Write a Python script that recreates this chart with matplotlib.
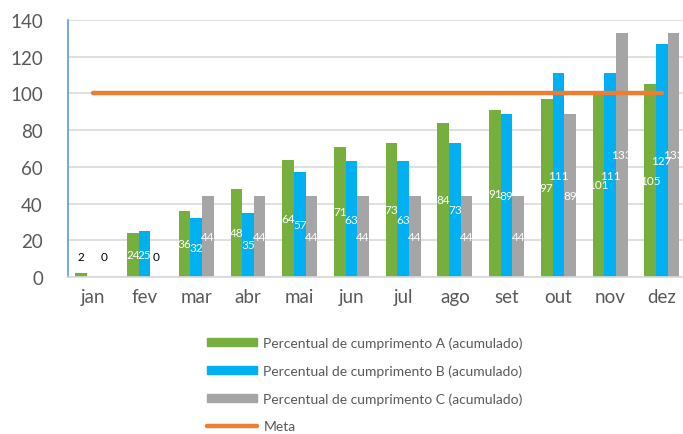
import numpy as np
import matplotlib.pyplot as plt
from matplotlib.patches import Patch
from matplotlib.lines import Line2D

plt.rcParams['font.family'] = ['Lato', 'DejaVu Sans']

meses = ['jan', 'fev', 'mar', 'abr', 'mai', 'jun', 'jul', 'ago', 'set', 'out', 'nov', 'dez']
serie_a = [2, 24, 36, 48, 64, 71, 73, 84, 91, 97, 101, 105]
serie_b = [np.nan, 25, 32, 35, 57, 63, 63, 73, 89, 111, 111, 127]
serie_c = [0, 0, 44, 44, 44, 44, 44, 44, 44, 89, 133, 133]
meta = [100] * 12

nomes = ['Percentual de cumprimento A (acumulado)',
         'Percentual de cumprimento B (acumulado)',
         'Percentual de cumprimento C (acumulado)']
cores = ['#77AF3E', '#00B0F0', '#A5A5A5']

fig = plt.figure(figsize=(6.83, 4.35), dpi=100)
ax = fig.add_axes([68 / 683, 1 - 278 / 435, 615 / 683, 257 / 435])

x = np.arange(len(meses))
w = 0.225
for k, (vals, cor) in enumerate(zip([serie_a, serie_b, serie_c], cores)):
    pos = x + (k - 1) * w
    v = np.array(vals, dtype=float)
    ax.bar(pos, np.nan_to_num(v), w, color=cor, zorder=2)
    for xi, vi in zip(pos, v):
        if np.isnan(vi):
            continue
        if vi < 5:
            ax.text(xi, 11, f'{vi:.0f}', ha='center', va='center', fontsize=8.5, color='black', zorder=4)
        else:
            ax.text(xi, vi / 2, f'{vi:.0f}', ha='center', va='center', fontsize=8.5, color='white', zorder=4)

ax.plot(x, meta, color='#ED7D31', lw=3.2, solid_capstyle='round', zorder=3)

ax.set_xlim(-0.48, 11.41)
ax.set_ylim(0, 140)
ax.set_yticks(range(0, 141, 20))
ax.set_xticks(x)
ax.set_xticklabels(meses)
ax.grid(axis='y', color='#D9D9D9', lw=1.2, zorder=0)
for s in ['top', 'right']:
    ax.spines[s].set_visible(False)
ax.spines['left'].set_color('#5B9BD5')
ax.spines['left'].set_linewidth(1.2)
ax.spines['bottom'].set_color('#D9D9D9')
ax.spines['bottom'].set_linewidth(1.2)
ax.tick_params(axis='both', length=0, labelsize=13.5, colors='#595959')
ax.tick_params(axis='y', pad=18)
ax.tick_params(axis='x', pad=8)

handles = [Patch(color=c) for c in cores] + [Line2D([], [], color='#ED7D31', lw=3.2, solid_capstyle='round')]
fig.legend(handles, nomes + ['Meta'], loc='upper left', bbox_to_anchor=(194 / 683, 1 - 325 / 435),
           frameon=False, fontsize=10, handlelength=3.6, handleheight=0.5, labelspacing=1.1,
           handletextpad=0.5, labelcolor='#595959')

fig.savefig('out.png', dpi=100)
